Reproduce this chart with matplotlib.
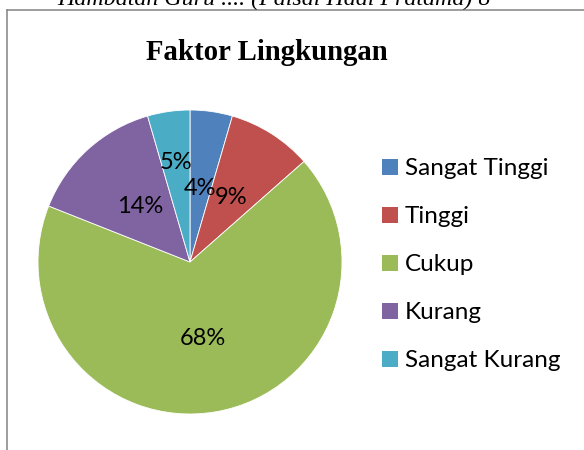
import numpy as np
import matplotlib
matplotlib.use("Agg")
import matplotlib.pyplot as plt
from matplotlib.lines import Line2D
from matplotlib.patches import Patch

categories = ["Sangat Tinggi", "Tinggi", "Cukup", "Kurang", "Sangat Kurang"]
values = [4.5, 9.0, 67.5, 14.5, 4.5]
pct_labels = ["4%", "9%", "68%", "14%", "5%"]
colors = ["#4F81BD", "#C0504D", "#9BBB59", "#8064A2", "#4BACC6"]
label_radius = [0.49, 0.50, 0.51, 0.49, 0.66]

W, H = 584, 450
fig = plt.figure(figsize=(W / 100, H / 100), dpi=100)

# pie centred at (190, 262) px, radius 152 px
cx, cy, r = 190, 262, 152
ax = fig.add_axes([(cx - r) / W, (H - cy - r) / H, 2 * r / W, 2 * r / H])
wedges, _ = ax.pie(values, colors=colors, startangle=90, counterclock=False,
                   radius=1, wedgeprops=dict(linewidth=0.6, edgecolor="white"))
ax.set_xlim(-1, 1)
ax.set_ylim(-1, 1)
ax.set_aspect("equal")
ax.axis("off")

for w, lab, rr in zip(wedges, pct_labels, label_radius):
    mid = np.deg2rad((w.theta1 + w.theta2) / 2)
    ax.text(rr * np.cos(mid), rr * np.sin(mid), lab, ha="center", va="center",
            fontsize=17, family="Lato", color="black")

# title and clipped page header
fig.text(267 / W, 1 - 52 / H, "Faktor Lingkungan", ha="center", va="center",
         fontsize=20.7, fontweight="bold", family="Liberation Serif")
fig.text(274 / W, 1 - 5 / H, "Hambatan Guru .... (Faisal Hadi Pratama) 8",
         ha="center", va="baseline", fontsize=17.3, style="italic",
         family="Liberation Serif")

# chart border (left and top edges visible)
fig.add_artist(Line2D([7 / W, 7 / W], [0, 1 - 10 / H], transform=fig.transFigure,
                      color="#8c8c8c", lw=1.2))
fig.add_artist(Line2D([7 / W, 1], [1 - 10 / H, 1 - 10 / H], transform=fig.transFigure,
                      color="#8c8c8c", lw=1.2))

handles = [Patch(facecolor=c, edgecolor="none") for c in colors]
fig.legend(handles, categories, loc="upper left",
           bbox_to_anchor=(363 / W, 1 - 139 / H), frameon=False,
           prop=dict(family="Lato", size=17.5), handlelength=0.62,
           handleheight=0.62, handletextpad=0.3, labelspacing=1.11,
           borderpad=0.3)

fig.savefig("out.png", dpi=100)
